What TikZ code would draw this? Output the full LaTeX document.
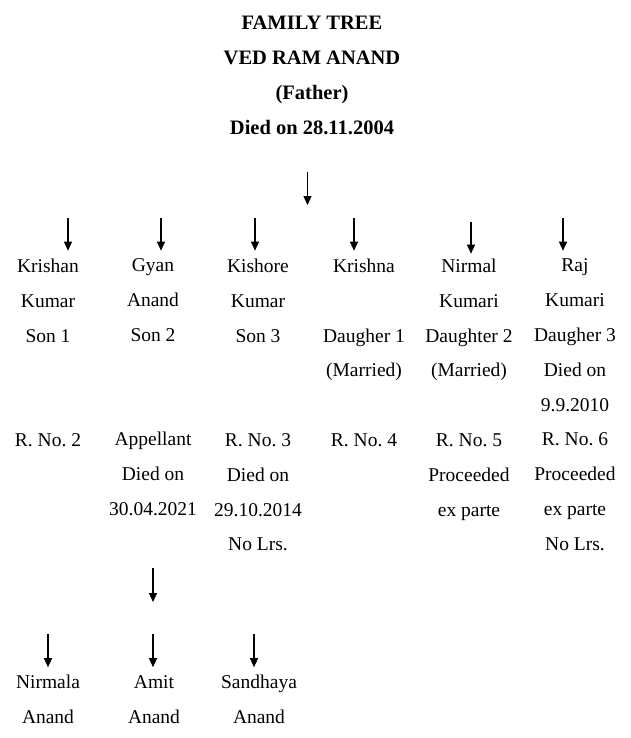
\documentclass[tikz,border=0pt]{standalone}
\usepackage{fontspec}
\setmainfont{Liberation Serif}
\usetikzlibrary{arrows.meta}
\tikzstyle{person} = [align=center, inner sep=0pt, anchor=north,
    font=\fontsize{19.5}{34.8}\selectfont, execute at begin node=\leavevmode\vphantom{Kh}]
\tikzstyle{heading} = [person, font=\fontsize{20.5}{35.2}\selectfont\bfseries]
\tikzstyle{down} = [-{Triangle[length=9pt,width=8pt]}, line width=1.2pt]

\begin{document}
\frenchspacing
\begin{tikzpicture}[x=1pt,y=-1pt]
\useasboundingbox (0,0) rectangle (630,738);

\node[heading] (title) at (312,15.6) {FAMILY TREE\\VED RAM ANAND\\(Father)\\Died on 28.11.2004};
\coordinate (f0) at (307.5,172);
\coordinate (f1) at (307.5,205);
\draw[down] (f0) -- (f1);

% children
\node[person] (krishan) at (48,258.7) {Krishan\\Kumar\\Son 1\\\mbox{}\\\mbox{}\\R. No. 2};
\node[person] (gyan) at (153,258.7) {Gyan\\Anand\\Son 2\\\mbox{}\\\mbox{}\\Appellant\\Died on\\30.04.2021};
\node[person] (kishore) at (258,258.7) {Kishore\\Kumar\\Son 3\\\mbox{}\\\mbox{}\\R. No. 3\\Died on\\29.10.2014\\No Lrs.};
\node[person] (krishna) at (364,258.7) {Krishna\\\mbox{}\\Daugher 1\\(Married)\\\mbox{}\\R. No. 4};
\node[person] (nirmal) at (469,258.7) {Nirmal\\Kumari\\Daughter 2\\(Married)\\\mbox{}\\R. No. 5\\Proceeded\\ex parte};
\node[person] (raj) at (575,258.7) {Raj\\Kumari\\Daugher 3\\Died on\\9.9.2010\\R. No. 6\\Proceeded\\ex parte\\No Lrs.};

\coordinate (c1) at (68,218);
\coordinate (c2) at (161,218);
\coordinate (c3) at (255,218);
\coordinate (c4) at (354,218);
\coordinate (c5) at (471,222);
\coordinate (c6) at (563,218);
\draw[down, shorten >=8pt] (c1) -- (c1 |- krishan.north);
\draw[down, shorten >=8pt] (c2) -- (c2 |- gyan.north);
\draw[down, shorten >=8pt] (c3) -- (c3 |- kishore.north);
\draw[down, shorten >=8pt] (c4) -- (c4 |- krishna.north);
\draw[down, shorten >=5pt] (c5) -- (c5 |- nirmal.north);
\draw[down, shorten >=8pt] (c6) -- (c6 |- raj.north);

% grandchildren
\coordinate (g0) at (153,568);
\coordinate (g1) at (153,602);
\draw[down] (g0) -- (g1);

\node[person] (nirmala) at (48,675.2) {Nirmala\\Anand};
\node[person] (amit) at (154,675.2) {Amit\\Anand};
\node[person] (sandhaya) at (259,675.2) {Sandhaya\\Anand};

\coordinate (d1) at (48,634);
\coordinate (d2) at (153,634);
\coordinate (d3) at (254,634);
\draw[down, shorten >=8pt] (d1) -- (d1 |- nirmala.north);
\draw[down, shorten >=8pt] (d2) -- (d2 |- amit.north);
\draw[down, shorten >=8pt] (d3) -- (d3 |- sandhaya.north);
\end{tikzpicture}
\end{document}
